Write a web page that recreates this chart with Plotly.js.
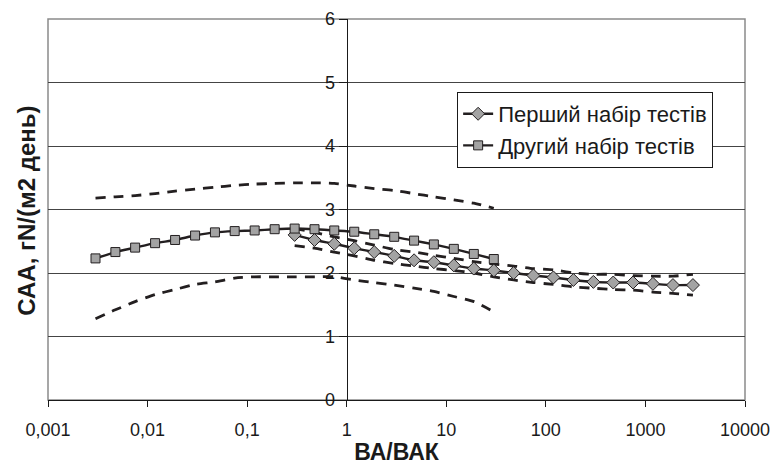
<!DOCTYPE html>
<html>
<head>
<meta charset="utf-8">
<script src="https://cdn.plot.ly/plotly-3.0.1.min.js"></script>
<style>html,body{margin:0;padding:0;background:#fff;}#chart{width:773px;height:465px;}</style>
</head>
<body>
<div id="chart"></div>
<script>
// X tick labels
const xTickVals = [0.001, 0.01, 0.1, 1, 10, 100, 1000, 10000];
const xTickText = ["0,001", "0,01", "0,1", "1", "10", "100", "1000", "10000"];

// Series 1: Перший набір тестів (diamonds)
const name1 = "Перший набір тестів";
const bvak1 = [0.3, 0.475, 0.75, 1.19, 1.89, 3, 4.75, 7.5, 11.9, 18.9, 30, 47.5, 75, 119, 189, 300, 475, 750, 1190, 1890, 3000];
const caa1 = [2.60, 2.52, 2.46, 2.39, 2.33, 2.27, 2.20, 2.17, 2.12, 2.07, 2.04, 2.00, 1.96, 1.93, 1.89, 1.86, 1.85, 1.85, 1.83, 1.81, 1.81];
const upper1 = [2.70, 2.64, 2.57, 2.51, 2.44, 2.37, 2.33, 2.28, 2.23, 2.18, 2.14, 2.11, 2.07, 2.05, 2.00, 1.98, 1.98, 1.96, 1.95, 1.95, 1.98];
const lower1 = [2.43, 2.39, 2.33, 2.27, 2.20, 2.15, 2.11, 2.07, 2.04, 2.00, 1.94, 1.89, 1.85, 1.82, 1.78, 1.76, 1.74, 1.73, 1.70, 1.68, 1.65];

// Series 2: Другий набір тестів (squares)
const name2 = "Другий набір тестів";
const bvak2 = [0.003, 0.00475, 0.0075, 0.0119, 0.0189, 0.03, 0.0475, 0.075, 0.119, 0.189, 0.3, 0.475, 0.75, 1.19, 1.89, 3, 4.75, 7.5, 11.9, 18.9, 30];
const caa2 = [2.23, 2.33, 2.40, 2.47, 2.52, 2.59, 2.64, 2.66, 2.67, 2.69, 2.70, 2.69, 2.67, 2.65, 2.61, 2.57, 2.51, 2.45, 2.38, 2.30, 2.22];
const upper2 = [3.18, 3.20, 3.22, 3.25, 3.29, 3.32, 3.35, 3.38, 3.40, 3.41, 3.42, 3.42, 3.41, 3.37, 3.33, 3.30, 3.25, 3.20, 3.15, 3.10, 3.02];
const lower2 = [1.28, 1.42, 1.55, 1.66, 1.74, 1.82, 1.86, 1.92, 1.94, 1.94, 1.94, 1.94, 1.94, 1.89, 1.85, 1.81, 1.76, 1.71, 1.63, 1.55, 1.39];

const xTitle = "ВА/ВАК";
const yTitle = "САА, гN/(м2 день)";

const lineCol = "#231f20";
const markFill = "#a3a3a3";
const font = "Arial, 'Liberation Sans', sans-serif";

function band(x, y) {
  return {x: x, y: y, type: "scatter", mode: "lines", showlegend: false, hoverinfo: "skip",
          line: {color: lineCol, width: 2.8, dash: "10px,8px", shape: "spline", smoothing: 0.6}};
}

const traces = [
  band(bvak2, upper2), band(bvak2, lower2), band(bvak1, upper1), band(bvak1, lower1),
  {x: bvak1, y: caa1, name: name1, legendgroup: "g1", type: "scatter", mode: "lines+markers",
   line: {color: lineCol, width: 2.4, shape: "spline", smoothing: 0.5},
   marker: {symbol: "diamond", size: 10, color: markFill, line: {color: lineCol, width: 1}}},
  {x: bvak2, y: caa2, name: name2, legendgroup: "g2", type: "scatter", mode: "lines+markers",
   line: {color: lineCol, width: 2.4, shape: "spline", smoothing: 0.5},
   marker: {symbol: "square", size: 9, color: markFill, line: {color: lineCol, width: 1}}}
];

const layout = {
  width: 773, height: 465,
  margin: {l: 48, r: 28, t: 19, b: 65},
  paper_bgcolor: "#fff", plot_bgcolor: "#fff",
  font: {family: font, color: "#1a1a1a", size: 16},
  showlegend: true,
  legend: {x: 0.587, y: 0.609, xanchor: "left", yanchor: "bottom", bgcolor: "#fff",
           bordercolor: "#1a1a1a", borderwidth: 1, font: {family: font, size: 22, color: "#1a1a1a"},
           traceorder: "grouped", tracegroupgap: 0},
  xaxis: {type: "log", range: [-3, 4], tickmode: "array", tickvals: xTickVals, ticktext: xTickText,
          ticks: "outside", ticklen: 6, tickcolor: "#1a1a1a", showline: true, linecolor: "#1a1a1a",
          linewidth: 1, showgrid: false, zeroline: false, tickfont: {size: 18, family: font},
          ticklabelstandoff: 7,
          title: {text: "<b>" + xTitle + "</b>", font: {size: 23, family: font}, standoff: 5}},
  yaxis: {range: [0, 6], dtick: 1, anchor: "free", position: 3 / 7, side: "left",
          ticks: "outside", ticklen: 8, tickcolor: "#1a1a1a", showline: true, linecolor: "#1a1a1a",
          linewidth: 1, showgrid: true, gridcolor: "#444", gridwidth: 1, zeroline: false,
          tickfont: {size: 18, family: font}},
  shapes: [{type: "rect", xref: "paper", yref: "paper", x0: 0, x1: 1, y0: 0, y1: 1,
            line: {color: "#8a8a8a", width: 1.5}, layer: "below"}],
  annotations: [{text: "<b>" + yTitle + "</b>", xref: "paper", yref: "paper", x: -0.032, y: 0.496,
                 xanchor: "center", yanchor: "middle", textangle: -90, showarrow: false,
                 font: {size: 24, family: font, color: "#1a1a1a"}}]
};

Plotly.newPlot("chart", traces, layout, {staticPlot: true, displayModeBar: false});
</script>
</body>
</html>
